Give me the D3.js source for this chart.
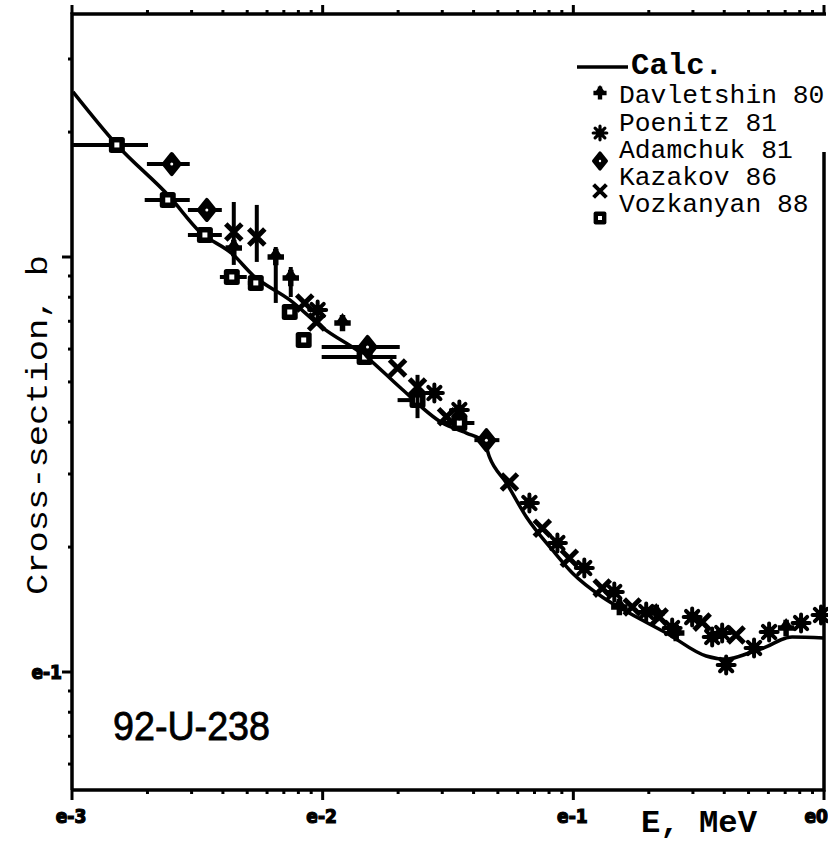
<!DOCTYPE html>
<html>
<head>
<meta charset="utf-8">
<script src="https://cdn.jsdelivr.net/npm/d3@7/dist/d3.min.js"></script>
<style>
	body { margin: 0; background: #ffffff; }
	svg { display: block; }
</style>
</head>
<body>
<svg id="chart" width="828" height="842"></svg>
<script>

// ---- evaluated curve (energy MeV, cross-section b)
var calcEnergy = [1.009e-3, 1.511e-3, 2.457e-3, 3.236e-3, 4.379e-3, 5.26e-3, 7.39e-3, 9.91e-3,
				  1.497e-2, 2.027e-2, 3.006e-2, 3.748e-2, 4.418e-2, 4.626e-2, 5.41e-2, 6.497e-2,
				  8.25e-2, 0.0991, 0.1304, 0.1671, 0.2347, 0.3388, 0.4071, 0.5027, 0.5874,
				  0.7059, 0.7462, 1.0];
var calcSigma  = [2.50, 1.862, 1.395, 1.150, 1.015, 0.905, 0.788, 0.678,
				  0.574, 0.486, 0.398, 0.3765, 0.358, 0.3297, 0.2854, 0.2363,
				  0.1968, 0.1732, 0.1516, 0.1387, 0.1242, 0.1093, 0.1074, 0.1111, 0.1149,
				  0.1208, 0.1214, 0.1208];

// ---- experimental sets: e, s, optional error range (e1,e2) or (s1,s2)
var dataDavletshin = [
	{ e: 4.42e-3, s: 1.051 },
	{ e: 6.50e-3, s: 1.000, s1: 0.775, s2: 1.057 },
	{ e: 7.46e-3, s: 0.890, s1: 0.801, s2: 0.946 },
	{ e: 1.20e-2, s: 0.693 },
	{ e: 0.1526,  s: 0.1434 },
	{ e: 0.2142,  s: 0.1387 },
	{ e: 0.2573,  s: 0.1242 },
	{ e: 0.706,   s: 0.1277 }
];

var dataPoenitz = [
	{ e: 9.55e-3, s: 0.745 },
	{ e: 2.79e-2, s: 0.470 },
	{ e: 3.51e-2, s: 0.428 },
	{ e: 6.68e-2, s: 0.2554 },
	{ e: 8.64e-2, s: 0.2046 },
	{ e: 0.1106,  s: 0.1781 },
	{ e: 0.1457,  s: 0.1559 },
	{ e: 0.1953,  s: 0.1395 },
	{ e: 0.2479,  s: 0.1277 },
	{ e: 0.2979,  s: 0.1356 },
	{ e: 0.358,   s: 0.1214 },
	{ e: 0.3924,  s: 0.1242 },
	{ e: 0.4071,  s: 0.1039 },
	{ e: 0.526,   s: 0.1143 },
	{ e: 0.604,   s: 0.1248 },
	{ e: 0.810,   s: 0.1312 },
	{ e: 0.973,   s: 0.1372 }
];

var dataAdamchuk = [
	{ e: 2.50e-3, s: 1.675, e1: 1.99e-3, e2: 2.95e-3 },
	{ e: 3.45e-3, s: 1.298, e1: 2.90e-3, e2: 3.96e-3 },
	{ e: 1.51e-2, s: 0.607, e1: 9.91e-3, e2: 2.03e-2 },
	{ e: 4.50e-2, s: 0.362, e1: 4.03e-2, e2: 5.07e-2 }
];

var dataKazakov = [
	{ e: 4.42e-3, s: 1.149, s1: 0.957, s2: 1.357 },
	{ e: 5.46e-3, s: 1.117, s1: 0.973, s2: 1.335 },
	{ e: 8.48e-3, s: 0.775 },
	{ e: 9.46e-3, s: 0.697 },
	{ e: 1.99e-2, s: 0.540 },
	{ e: 2.39e-2, s: 0.486, s1: 0.409, s2: 0.520 },
	{ e: 3.12e-2, s: 0.412 },
	{ e: 5.56e-2, s: 0.287 },
	{ e: 7.52e-2, s: 0.222 },
	{ e: 9.64e-2, s: 0.188 },
	{ e: 0.1304,  s: 0.1593 },
	{ e: 0.1718,  s: 0.1434 },
	{ e: 0.220,   s: 0.1356 },
	{ e: 0.3265,  s: 0.1319 },
	{ e: 0.446,   s: 0.1228 }
];

var dataVozkanyan = [
	{ e: 1.51e-3, s: 1.862, e1: 1.01e-3, e2: 2.01e-3 },
	{ e: 2.41e-3, s: 1.372, e1: 1.95e-3, e2: 2.95e-3 },
	{ e: 3.39e-3, s: 1.130, e1: 2.90e-3, e2: 3.96e-3 },
	{ e: 4.34e-3, s: 0.895, e1: 3.89e-3, e2: 4.98e-3 },
	{ e: 5.41e-3, s: 0.866, e1: 5.03e-3, e2: 5.77e-3 },
	{ e: 7.39e-3, s: 0.737 },
	{ e: 8.40e-3, s: 0.631 },
	{ e: 1.47e-2, s: 0.574, e1: 9.91e-3, e2: 1.97e-2 },
	{ e: 2.39e-2, s: 0.452, e1: 1.99e-2, e2: 2.50e-2 },
	{ e: 3.51e-2, s: 0.398, e1: 3.01e-2, e2: 4.03e-2 }
];

var legendNames = ["Davletshin 80", "Poenitz 81", "Adamchuk 81", "Kazakov 86", "Vozkanyan 88"];
var legendKinds = ["plus", "star", "circle", "cross", "square"];

var xMajorTicks  = [1e-3, 1e-2, 1e-1, 1];
var xTickLabels  = ["e-3", "e-2", "e-1", "e0"];
var yMajorTicks  = [0.1, 1];
var yTickLabels  = ["e-1", ""];

// ---------------------------------------------------------------------------

var g_nLeft = 72, g_nRight = 824, g_nTop = 14, g_nBottom = 790;
var g_colorInk = "#000000";
var g_sMono = "'Liberation Mono', 'DejaVu Sans Mono', monospace";
var g_sTick = "'DejaVu Sans Condensed', 'DejaVu Sans', sans-serif";

var g_domSVG = d3.select("#chart");

var xScale = d3.scaleLog().domain([1e-3, 1]).range([g_nLeft, g_nRight]);
var yScale = d3.scaleLog().domain([0.1, 1]).range([672, 257]);

function funcMinorTicks(vMajor, nMin, nMax) {
	var v = [];
	vMajor.forEach(function(m) {
		for (var k = 2; k <= 9; k++) {
			var t = m * k;
			if (t > nMin && t < nMax) v.push(t);
		}
	});
	return v;
}

function funcDrawFrame() {

	var xMinor = funcMinorTicks([1e-3, 1e-2, 1e-1], 1e-3, 1);
	var yMin = yScale.invert(g_nBottom), yMax = yScale.invert(g_nTop);
	var yMinor = funcMinorTicks([0.01, 0.1, 1], yMin, yMax);

	// bottom ticks
	g_domSVG.selectAll("line.xtick_b")
		.data(xMinor.concat(xMajorTicks))
		.enter().append("line")
			.attr("class", "xtick_b")
			.attr("x1", function(d) { return xScale(d); })
			.attr("x2", function(d) { return xScale(d); })
			.attr("y1", g_nBottom)
			.attr("y2", function(d) { return g_nBottom + (xMajorTicks.indexOf(d) >= 0 ? 10 : 4); })
			.attr("stroke", g_colorInk)
			.attr("stroke-width", 3);

	// top ticks
	g_domSVG.selectAll("line.xtick_t")
		.data(xMinor.concat(xMajorTicks))
		.enter().append("line")
			.attr("class", "xtick_t")
			.attr("x1", function(d) { return xScale(d); })
			.attr("x2", function(d) { return xScale(d); })
			.attr("y1", g_nTop)
			.attr("y2", function(d) { return g_nTop - (xMajorTicks.indexOf(d) >= 0 ? 9 : 4); })
			.attr("stroke", g_colorInk)
			.attr("stroke-width", 3);

	// left ticks
	g_domSVG.selectAll("line.ytick")
		.data(yMinor.concat(yMajorTicks))
		.enter().append("line")
			.attr("class", "ytick")
			.attr("x1", g_nLeft)
			.attr("x2", function(d) { return g_nLeft - (yMajorTicks.indexOf(d) >= 0 ? 10 : 4); })
			.attr("y1", function(d) { return yScale(d); })
			.attr("y2", function(d) { return yScale(d); })
			.attr("stroke", g_colorInk)
			.attr("stroke-width", 3);

	// frame
	g_domSVG.append("path")
		.attr("d", "M " + g_nLeft + " " + g_nBottom + " L " + g_nLeft + " " + g_nTop + " L " + (g_nRight + 2) + " " + g_nTop)
		.attr("fill", "none")
		.attr("stroke", g_colorInk)
		.attr("stroke-width", 3.5);

	g_domSVG.append("path")
		.attr("d", "M " + g_nLeft + " " + g_nBottom + " L " + g_nRight + " " + g_nBottom + " L " + g_nRight + " 152")
		.attr("fill", "none")
		.attr("stroke", g_colorInk)
		.attr("stroke-width", 3.5);

	// tick labels
	g_domSVG.selectAll("text.xlabel")
		.data(xMajorTicks)
		.enter().append("text")
			.attr("class", "xlabel")
			.attr("x", function(d, i) { return i == 3 ? 828 : xScale(d) - 1; })
			.attr("y", 823)
			.attr("font-family", g_sTick)
			.attr("font-weight", "bold")
			.attr("font-size", "19px")
			.attr("text-anchor", function(d, i) { return i == 3 ? "end" : "middle"; })
			.attr("stroke", g_colorInk)
			.attr("stroke-width", 1.2)
			.attr("fill", g_colorInk)
			.text(function(d, i) { return xTickLabels[i]; });

	g_domSVG.selectAll("text.ylabel")
		.data(yMajorTicks)
		.enter().append("text")
			.attr("class", "ylabel")
			.attr("x", 62)
			.attr("y", function(d) { return yScale(d) + 7; })
			.attr("font-family", g_sTick)
			.attr("font-weight", "bold")
			.attr("font-size", "19px")
			.attr("text-anchor", "end")
			.attr("stroke", g_colorInk)
			.attr("stroke-width", 1.2)
			.attr("fill", g_colorInk)
			.text(function(d, i) { return yTickLabels[i]; });

	// axis titles
	g_domSVG.append("text")
		.attr("transform", "translate(47, 425) rotate(-90)")
		.attr("font-family", g_sMono)
		.attr("font-size", "30px")
		.attr("text-anchor", "middle")
		.attr("textLength", 340)
		.attr("lengthAdjust", "spacingAndGlyphs")
		.attr("fill", g_colorInk)
		.text("Cross-section, b");

	g_domSVG.append("text")
		.attr("x", 641)
		.attr("y", 832)
		.attr("font-family", g_sMono)
		.attr("font-weight", "bold")
		.attr("font-size", "31px")
		.attr("textLength", 116)
		.attr("lengthAdjust", "spacingAndGlyphs")
		.attr("fill", g_colorInk)
		.text("E, MeV");

	g_domSVG.append("text")
		.attr("x", 113)
		.attr("y", 740)
		.attr("font-family", "'Liberation Sans', Arial, sans-serif")
		.attr("font-size", "41px")
		.attr("textLength", 157)
		.attr("lengthAdjust", "spacingAndGlyphs")
		.attr("stroke", g_colorInk)
		.attr("stroke-width", 0.8)
		.attr("fill", g_colorInk)
		.text("92-U-238");
}

// draw one marker of a kind centred at 0,0 inside group g
function funcDrawMarker(g, sKind, nScale) {

	var s = nScale || 1;

	if (sKind == "plus") {
		g.append("path")
			.attr("d", d3.symbol().type(d3.symbolCross).size(150 * s * s)())
			.attr("fill", g_colorInk);
		g.append("path")
			.attr("d", "M 0 " + (-10 * s) + " L " + (-5.5 * s) + " " + (-2 * s) + " L " + (5.5 * s) + " " + (-2 * s) + " Z")
			.attr("fill", g_colorInk);
	}
	else if (sKind == "star") {
		var r = 8.5 * s;
		g.append("path")
			.attr("d", "M " + (-r) + " 0 L " + r + " 0 M 0 " + (-r) + " L 0 " + r +
					   " M " + (-r * 0.72) + " " + (-r * 0.72) + " L " + (r * 0.72) + " " + (r * 0.72) +
					   " M " + (-r * 0.72) + " " + (r * 0.72) + " L " + (r * 0.72) + " " + (-r * 0.72))
			.attr("stroke", g_colorInk)
			.attr("stroke-width", 4 * s)
			.attr("stroke-linecap", "round");
		g.append("circle")
			.attr("r", 5.5 * s)
			.attr("fill", g_colorInk);
	}
	else if (sKind == "circle") {
		g.append("path")
			.attr("d", "M 0 " + (-10 * s) + " L " + (8 * s) + " 0 L 0 " + (10 * s) + " L " + (-8 * s) + " 0 Z")
			.attr("fill", g_colorInk)
			.attr("stroke", g_colorInk)
			.attr("stroke-width", 4 * s)
			.attr("stroke-linejoin", "round");
		g.append("circle")
			.attr("r", 1.5 * s)
			.attr("fill", "#ffffff");
	}
	else if (sKind == "cross") {
		g.append("path")
			.attr("d", d3.symbol().type(d3.symbolTimes).size(170 * s * s)())
			.attr("fill", "none")
			.attr("stroke", g_colorInk)
			.attr("stroke-width", 5 * s);
	}
	else if (sKind == "square") {
		g.append("rect")
			.attr("x", -8 * s).attr("y", -8 * s)
			.attr("width", 16 * s).attr("height", 16 * s)
			.attr("rx", 2.5 * s)
			.attr("fill", g_colorInk);
		g.append("rect")
			.attr("x", -2.5 * s).attr("y", -2.5 * s)
			.attr("width", 5 * s).attr("height", 5 * s)
			.attr("fill", "#ffffff");
	}
}

function funcDrawSeries(tjData, sKind) {

	var domGroup = g_domSVG.append("g").attr("class", "series_" + sKind);

	// error bars
	domGroup.selectAll("line.xerr")
		.data(tjData.filter(function(d) { return d.e1 != null; }))
		.enter().append("line")
			.attr("class", "xerr")
			.attr("x1", function(d) { return xScale(d.e1); })
			.attr("x2", function(d) { return xScale(d.e2); })
			.attr("y1", function(d) { return yScale(d.s); })
			.attr("y2", function(d) { return yScale(d.s); })
			.attr("stroke", g_colorInk)
			.attr("stroke-width", 4);

	domGroup.selectAll("line.yerr")
		.data(tjData.filter(function(d) { return d.s1 != null; }))
		.enter().append("line")
			.attr("class", "yerr")
			.attr("x1", function(d) { return xScale(d.e); })
			.attr("x2", function(d) { return xScale(d.e); })
			.attr("y1", function(d) { return yScale(d.s1); })
			.attr("y2", function(d) { return yScale(d.s2); })
			.attr("stroke", g_colorInk)
			.attr("stroke-width", 4);

	domGroup.selectAll("g.mark")
		.data(tjData)
		.enter().append("g")
			.attr("class", "mark")
			.attr("transform", function(d) { return "translate(" + xScale(d.e) + "," + yScale(d.s) + ")"; })
			.each(function() { funcDrawMarker(d3.select(this), sKind, 1); });
}

function funcDrawCurve() {

	var vPoints = calcEnergy.map(function(e, i) { return [e, calcSigma[i]]; });

	var line = d3.line()
		.x(function(d) { return xScale(d[0]); })
		.y(function(d) { return yScale(d[1]); })
		.curve(d3.curveMonotoneX);

	g_domSVG.append("path")
		.attr("d", line(vPoints))
		.attr("fill", "none")
		.attr("stroke", g_colorInk)
		.attr("stroke-width", 3.5)
		.attr("stroke-linejoin", "round");
}

function funcDrawLegend() {

	g_domSVG.append("line")
		.attr("x1", 577).attr("x2", 628)
		.attr("y1", 67).attr("y2", 67)
		.attr("stroke", g_colorInk)
		.attr("stroke-width", 3.5);

	g_domSVG.append("text")
		.attr("x", 631)
		.attr("y", 74)
		.attr("font-family", g_sMono)
		.attr("font-weight", "bold")
		.attr("font-size", "30px")
		.attr("textLength", 92)
		.attr("lengthAdjust", "spacingAndGlyphs")
		.attr("fill", g_colorInk)
		.text("Calc.");

	var vMarkY = [93, 133, 161, 191, 218];
	var vTextY = [103, 131, 158, 185, 212];

	legendNames.forEach(function(sName, i) {

		var g = g_domSVG.append("g")
			.attr("transform", "translate(600," + vMarkY[i] + ")");
		funcDrawMarker(g, legendKinds[i], 0.8);

		g_domSVG.append("text")
			.attr("x", 619)
			.attr("y", vTextY[i])
			.attr("font-family", g_sMono)
			.attr("font-size", "25px")
			.attr("textLength", sName.length * 15.8)
			.attr("lengthAdjust", "spacingAndGlyphs")
			.attr("fill", g_colorInk)
			.text(sName);
	});
}

funcDrawFrame();
funcDrawCurve();
funcDrawSeries(dataVozkanyan, "square");
funcDrawSeries(dataAdamchuk, "circle");
funcDrawSeries(dataKazakov, "cross");
funcDrawSeries(dataPoenitz, "star");
funcDrawSeries(dataDavletshin, "plus");
funcDrawLegend();

</script>
</body>
</html>
